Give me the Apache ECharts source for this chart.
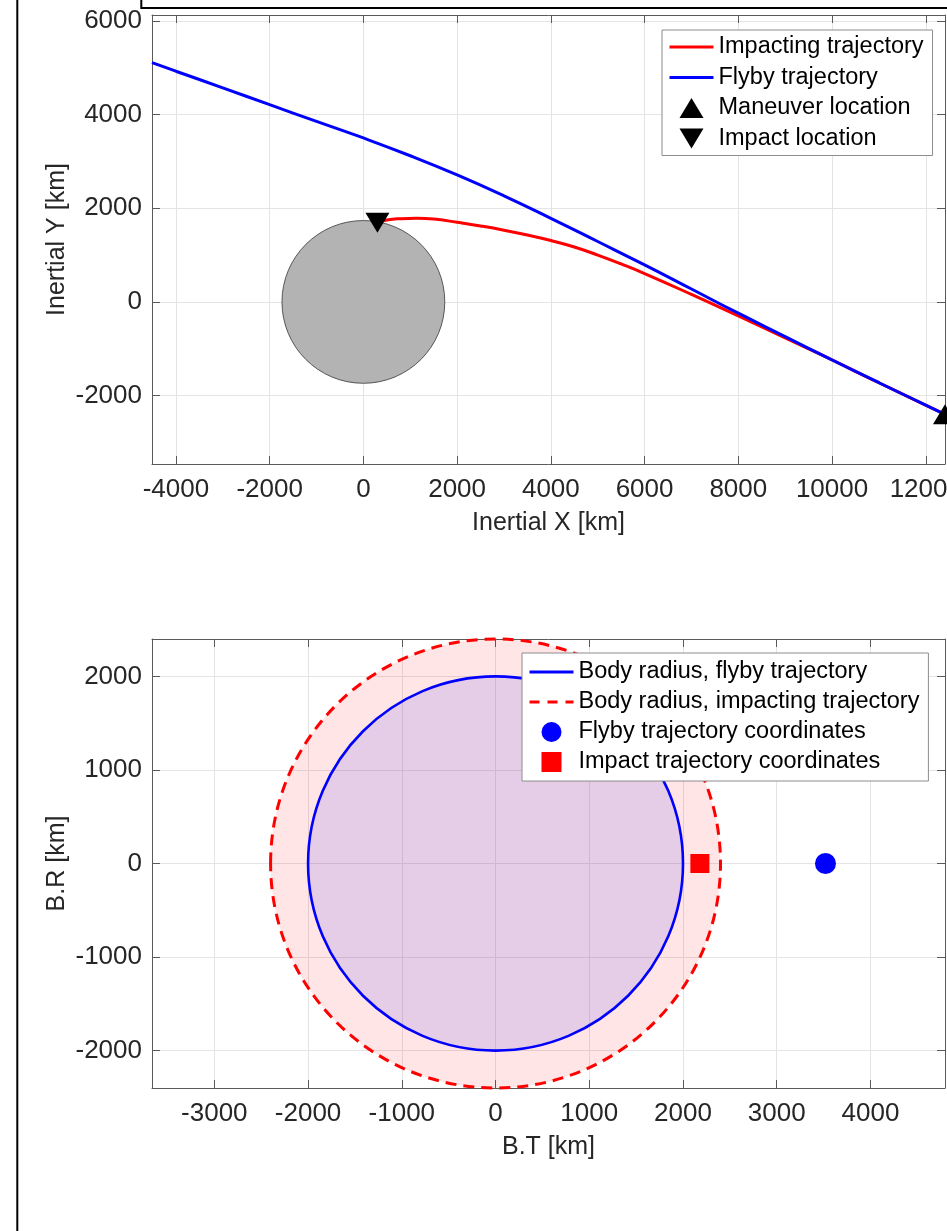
<!DOCTYPE html>
<html><head><meta charset="utf-8">
<script src="https://cdn.jsdelivr.net/npm/echarts@6/dist/echarts.min.js"></script>
<style>html,body{margin:0;padding:0;background:#fff}#c{width:947px;height:1231px}</style>
</head><body><div id="c"></div>
<script>
// ---------- Top plot: inertial trajectories (km) ----------
const impactingX = [300, 500, 800, 1140, 1500, 2000, 2500, 3000, 3500, 4000, 4500, 5000, 5500, 6000, 7000, 8000, 9000, 10000, 11000, 12410];
const impactingY = [1690, 1750, 1778, 1786, 1770, 1700, 1622, 1532, 1428, 1310, 1172, 1000, 810, 605, 160, -300, -770, -1240, -1725, -2400];
const flybyX = [-4510, -4000, -3000, -2000, -1000, 0, 1000, 2000, 3000, 4000, 5000, 6000, 7000, 8000, 9000, 10000, 11000, 12410];
const flybyY = [5108, 4925, 4570, 4210, 3855, 3500, 3120, 2711, 2265, 1785, 1290, 790, 275, -241, -740, -1238, -1725, -2400];
const maneuverLocation = [12410, -2400];
const impactLocation = [300, 1690];
const moonRadius = 1737;
const topXTicks = [-4000, -2000, 0, 2000, 4000, 6000, 8000, 10000, 12000];
const topYTicks = [-2000, 0, 2000, 4000, 6000];
const topXRange = [-4510, 12410];
const topYRange = [-3460, 6125];

// ---------- Bottom plot: B-plane (km) ----------
const bodyRadiusFlyby = 2000;
const bodyRadiusImpacting = 2400;
const flybyBT = [3520];
const flybyBR = [0];
const impactBT = [2180];
const impactBR = [0];
const botXTicks = [-3000, -2000, -1000, 0, 1000, 2000, 3000, 4000];
const botYTicks = [-2000, -1000, 0, 1000, 2000];
const botXRange = [-3665, 4795];
const botYRange = [-2400, 2400];

const FONT = '"Liberation Sans", Arial, Helvetica, sans-serif';
const AX = '#5a5a5a', GRIDC = '#e4e4e4', TXT = '#262626';
const DASH = [11, 7];

function zip(a, b) { return a.map((v, i) => [v, b[i]]); }

function axis(kind, gridIndex, range, ticks, pos, main, name) {
  return {
    type: 'value', gridIndex, min: range[0], max: range[1], position: pos,
    name: main ? name : '', nameLocation: 'middle', nameGap: kind === 'x' ? 47 : 82,
    nameMoveOverlap: false,
    nameTextStyle: { fontFamily: FONT, fontSize: 25, color: TXT },
    axisLine: { show: true, onZero: false, lineStyle: { color: AX, width: 1 } },
    axisTick: { show: true, inside: true, length: 8, customValues: ticks, lineStyle: { color: AX, width: 1 } },
    axisLabel: { show: main, customValues: ticks, margin: kind === 'x' ? 13 : 10, fontFamily: FONT, fontSize: 26, color: TXT, hideOverlap: false,
                 formatter: function (v) { return String(v); } },
    splitLine: { show: main, lineStyle: { color: GRIDC, width: 1 } }
  };
}

function circleItem(fill, stroke, width, dash) {
  return function (params, api) {
    const c = api.coord([api.value(0), api.value(1)]);
    const s = api.size([api.value(2), api.value(2)]);
    return {
      type: 'ellipse',
      shape: { cx: c[0], cy: c[1], rx: s[0], ry: s[1] },
      style: { fill: fill, stroke: stroke, lineWidth: width, lineDash: dash || null }
    };
  };
}

const hideSym = { opacity: 0 };

const chart = echarts.init(document.getElementById('c'), null, { renderer: 'canvas' });
chart.setOption({
  backgroundColor: '#fff',
  animation: false,
  grid: [
    { left: 152, top: 15, width: 793, height: 449, outerBoundsMode: 'none', containLabel: false },
    { left: 152, top: 639, width: 793, height: 449, outerBoundsMode: 'none', containLabel: false }
  ],
  xAxis: [
    axis('x', 0, topXRange, topXTicks, 'bottom', true, 'Inertial X [km]'),
    axis('x', 0, topXRange, topXTicks, 'top', false, ''),
    axis('x', 1, botXRange, botXTicks, 'bottom', true, 'B.T [km]'),
    axis('x', 1, botXRange, botXTicks, 'top', false, '')
  ],
  yAxis: [
    axis('y', 0, topYRange, topYTicks, 'left', true, 'Inertial Y [km]'),
    axis('y', 0, topYRange, topYTicks, 'right', false, ''),
    axis('y', 1, botYRange, botYTicks, 'left', true, 'B.R [km]'),
    axis('y', 1, botYRange, botYTicks, 'right', false, '')
  ],
  legend: [
    {
      orient: 'vertical', left: 662, top: 30, padding: [5, 9, 5, 6],
      itemWidth: 44, itemHeight: 20, itemGap: 6.5,
      backgroundColor: '#fff', borderColor: '#8c8c8c', borderWidth: 1, borderRadius: 0,
      textStyle: { fontFamily: FONT, fontSize: 23.5, color: '#000' },
      data: [
        { name: 'Impacting trajectory', itemStyle: hideSym, lineStyle: { color: '#ff0000', width: 3, type: 'solid' } },
        { name: 'Flyby trajectory', itemStyle: hideSym, lineStyle: { color: '#0000ff', width: 3, type: 'solid' } },
        { name: 'Maneuver location', icon: 'path://M0,20L12,0L24,20Z' },
        { name: 'Impact location', icon: 'path://M0,0L24,0L12,20Z' }
      ]
    },
    {
      orient: 'vertical', left: 522, top: 653, padding: [7, 9, 7, 6],
      itemWidth: 44, itemHeight: 20, itemGap: 6,
      backgroundColor: '#fff', borderColor: '#8c8c8c', borderWidth: 1, borderRadius: 0,
      textStyle: { fontFamily: FONT, fontSize: 23.5, color: '#000' },
      data: [
        { name: 'Body radius, flyby trajectory', itemStyle: hideSym, lineStyle: { color: '#0000ff', width: 3, type: 'solid' } },
        { name: 'Body radius, impacting trajectory', itemStyle: hideSym, lineStyle: { color: '#ff0000', width: 3, type: [10, 8] } },
        { name: 'Flyby trajectory coordinates', icon: 'circle' },
        { name: 'Impact trajectory coordinates', icon: 'path://M0,0L19,0L19,19L0,19Z' }
      ]
    }
  ],
  graphic: [
    { type: 'line', shape: { x1: 17.3, y1: 0, x2: 17.3, y2: 1231 }, style: { stroke: '#000', lineWidth: 2 }, z: 100 },
    { type: 'rect', shape: { x: 141.3, y: -20, width: 900, height: 28 }, style: { fill: 'none', stroke: '#000', lineWidth: 2 }, z: 100 }
  ],
  series: [
    // top plot
    {
      type: 'custom', name: 'Moon', xAxisIndex: 0, yAxisIndex: 0, z: 1,
      renderItem: circleItem('#b3b3b3', '#3a3a3a', 0.8),
      data: [[0, 0, moonRadius]], encode: { x: 0, y: 1 }, silent: true
    },
    {
      type: 'line', name: 'Impacting trajectory', xAxisIndex: 0, yAxisIndex: 0, z: 2,
      data: zip(impactingX, impactingY), symbol: 'none', smooth: 0.5,
      lineStyle: { color: '#ff0000', width: 3 }, itemStyle: { color: '#ff0000' }
    },
    {
      type: 'line', name: 'Flyby trajectory', xAxisIndex: 0, yAxisIndex: 0, z: 3,
      data: zip(flybyX, flybyY), symbol: 'none', smooth: 0.5,
      lineStyle: { color: '#0000ff', width: 3 }, itemStyle: { color: '#0000ff' }
    },
    {
      type: 'scatter', name: 'Maneuver location', xAxisIndex: 0, yAxisIndex: 0, z: 4,
      data: [maneuverLocation], symbol: 'triangle', symbolSize: [24, 20], clip: false,
      itemStyle: { color: '#000', opacity: 1 }
    },
    {
      type: 'scatter', name: 'Impact location', xAxisIndex: 0, yAxisIndex: 0, z: 4,
      data: [impactLocation], symbol: 'triangle', symbolRotate: 180, symbolSize: [24, 20],
      itemStyle: { color: '#000', opacity: 1 }
    },
    // bottom plot legend proxies (line icons)
    {
      type: 'line', name: 'Body radius, flyby trajectory', xAxisIndex: 2, yAxisIndex: 2,
      data: [], symbol: 'none', lineStyle: { color: '#0000ff', width: 3 }, itemStyle: { color: '#0000ff' }
    },
    {
      type: 'line', name: 'Body radius, impacting trajectory', xAxisIndex: 2, yAxisIndex: 2,
      data: [], symbol: 'none', lineStyle: { color: '#ff0000', width: 3, type: DASH }, itemStyle: { color: '#ff0000' }
    },
    // bottom plot circles
    {
      type: 'custom', name: 'Body radius, impacting trajectory', xAxisIndex: 2, yAxisIndex: 2, z: 1,
      renderItem: circleItem('rgba(255,0,0,0.1)', '#ff0000', 3, DASH),
      data: [[0, 0, bodyRadiusImpacting]], encode: { x: 0, y: 1 }, silent: true, clip: false
    },
    {
      type: 'custom', name: 'Body radius, flyby trajectory', xAxisIndex: 2, yAxisIndex: 2, z: 2,
      renderItem: circleItem('rgba(0,0,255,0.1)', '#0000ff', 2.6),
      data: [[0, 0, bodyRadiusFlyby]], encode: { x: 0, y: 1 }, silent: true
    },
    {
      type: 'scatter', name: 'Flyby trajectory coordinates', xAxisIndex: 2, yAxisIndex: 2, z: 4,
      data: zip(flybyBT, flybyBR), symbol: 'circle', symbolSize: 21,
      itemStyle: { color: '#0000ff', opacity: 1 }
    },
    {
      type: 'scatter', name: 'Impact trajectory coordinates', xAxisIndex: 2, yAxisIndex: 2, z: 4,
      data: zip(impactBT, impactBR), symbol: 'rect', symbolSize: 19,
      itemStyle: { color: '#ff0000', opacity: 1 }
    }
  ]
});
</script>
</body></html>
